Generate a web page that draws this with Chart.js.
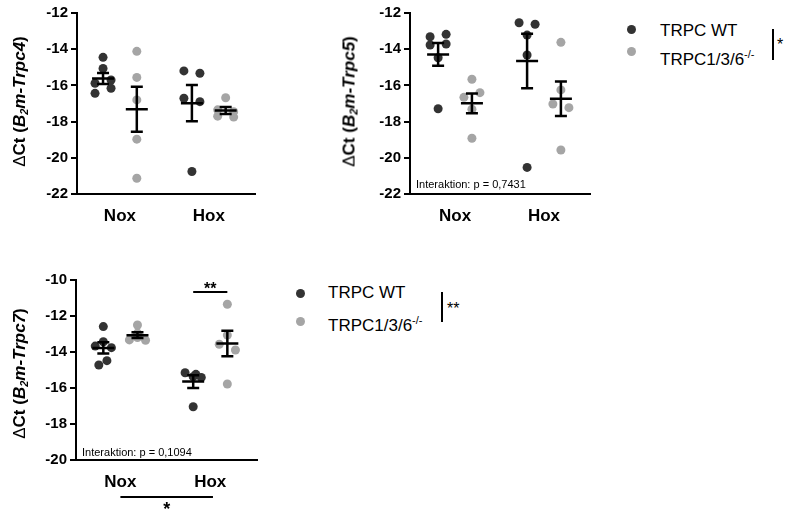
<!DOCTYPE html>
<html><head><meta charset="utf-8">
<script src="https://cdn.jsdelivr.net/npm/chart.js@4.4.0/dist/chart.umd.min.js"></script>
<style>
html,body{margin:0;padding:0;background:#fff;width:785px;height:511px;overflow:hidden;font-family:"Liberation Sans",Arial,sans-serif;color:#000;}
canvas{position:absolute;}
.ytitle{position:absolute;width:220px;height:17px;text-align:center;font-weight:bold;font-size:17px;line-height:17px;white-space:nowrap;transform:rotate(-90deg);transform-origin:50% 50%;}
.ytitle sub{font-size:11px;vertical-align:-3px;line-height:0;}
.ytitle .d{font-weight:normal;}
.inter{position:absolute;font-size:11px;line-height:11px;white-space:nowrap;}
.leg{position:absolute;font-size:17px;line-height:17px;white-space:nowrap;}
.leg sup{font-size:11px;position:relative;top:-7px;vertical-align:baseline;line-height:0;}
.dot{position:absolute;width:9px;height:9px;border-radius:50%;}
.vbar{position:absolute;width:2px;background:#000;}
.ast{position:absolute;font-size:16px;line-height:16px;white-space:nowrap;}
</style></head>
<body>
<canvas id="c1" width="265" height="235" style="left:0;top:0"></canvas>
<canvas id="c2" width="265" height="235" style="left:330px;top:0"></canvas>
<canvas id="c3" width="265" height="244" style="left:0;top:267px"></canvas>

<div class="ytitle" style="left:-91px;top:93px"><span class="d">Δ</span>Ct (<i>B<sub>2</sub>m-Trpc4</i>)</div>
<div class="ytitle" style="left:239px;top:93px"><span class="d">Δ</span>Ct (<i>B<sub>2</sub>m-Trpc5</i>)</div>
<div class="ytitle" style="left:-91px;top:365px"><span class="d">Δ</span>Ct (<i>B<sub>2</sub>m-Trpc7</i>)</div>

<div class="inter" style="left:416px;top:179px">Interaktion: p = 0,7431</div>
<div class="inter" style="left:82px;top:447px">Interaktion: p = 0,1094</div>

<div class="dot" style="left:627px;top:25px;background:#333"></div>
<div class="dot" style="left:627px;top:47px;background:#a5a5a5"></div>
<div class="leg" style="left:660px;top:22px">TRPC WT</div>
<div class="leg" style="left:660px;top:51px">TRPC1/3/6<sup>-/-</sup></div>
<div class="vbar" style="left:772px;top:29px;height:31px"></div>
<div class="ast" style="left:777px;top:37px">*</div>

<div class="dot" style="left:296px;top:289px;background:#333"></div>
<div class="dot" style="left:296px;top:317px;background:#a5a5a5"></div>
<div class="leg" style="left:328px;top:284px">TRPC WT</div>
<div class="leg" style="left:328px;top:317px">TRPC1/3/6<sup>-/-</sup></div>
<div class="vbar" style="left:441px;top:292px;height:30px"></div>
<div class="ast" style="left:447px;top:301px">**</div>

<script>
// ---------- data ----------
const categories = ['Nox', 'Hox'];
const genotypes = ['TRPC WT', 'TRPC1/3/6-/-'];

// Trpc4 (ΔCt vs B2m)
const trpc4WtNox = [-14.45, -15.06, -15.70, -15.88, -16.16, -16.44];
const trpc4KoNox = [-14.12, -15.56, -16.80, -18.97, -21.13];
const trpc4WtHox = [-15.20, -15.33, -16.71, -16.90, -20.76];
const trpc4KoHox = [-16.68, -17.35, -17.45, -17.70, -17.75];

// Trpc5
const trpc5WtNox = [-13.18, -13.31, -13.71, -13.77, -14.47, -17.29];
const trpc5KoNox = [-15.66, -16.40, -16.66, -17.32, -18.92];
const trpc5WtHox = [-12.54, -12.62, -13.22, -14.32, -20.53];
const trpc5KoHox = [-13.62, -16.25, -17.03, -17.23, -19.57];

// Trpc7
const trpc7WtNox = [-12.59, -13.43, -13.67, -13.76, -14.48, -14.72];
const trpc7KoNox = [-12.50, -12.95, -13.20, -13.33, -13.35];
const trpc7WtHox = [-15.15, -15.24, -15.37, -15.41, -17.04];
const trpc7KoHox = [-11.35, -13.06, -13.57, -13.89, -15.78];

// y tick labels
const yTicksTrpc4 = [-22, -20, -18, -16, -14, -12];
const yTicksTrpc5 = [-22, -20, -18, -16, -14, -12];
const yTicksTrpc7 = [-20, -18, -16, -14, -12, -10];

// horizontal scatter (jitter) of the dots, in category units (layout only)
const jit4WtNox = [0, 0, 0.09, -0.09, 0.09, -0.09];
const jit4KoNox = [0, 0, 0, 0, 0];
const jit4WtHox = [-0.09, 0.09, -0.09, 0.09, 0];
const jit4KoHox = [0, -0.09, 0.09, -0.09, 0.09];
const jit5WtNox = [0.09, -0.09, 0.09, -0.09, 0, 0];
const jit5KoNox = [0, 0.09, -0.09, 0, 0];
const jit5WtHox = [-0.09, 0.09, 0, 0, 0];
const jit5KoHox = [0, 0, -0.09, 0.09, 0];
const jit7WtNox = [0, 0, -0.09, 0.09, 0.04, -0.05];
const jit7KoNox = [0, 0, 0, -0.09, 0.09];
const jit7WtHox = [-0.09, 0.03, 0, 0.09, 0];
const jit7KoHox = [0, 0, -0.09, 0.09, 0];

// ---------- helpers ----------
const FONT = '"Liberation Sans", Arial, sans-serif';
const WT_COLOR = '#333333';
const KO_COLOR = '#a5a5a5';
const SUB = 0.19;

function mean(a){ return a.reduce((s,v)=>s+v,0)/a.length; }
function sem(a){ const m=mean(a); const sd=Math.sqrt(a.reduce((s,v)=>s+(v-m)*(v-m),0)/(a.length-1)); return sd/Math.sqrt(a.length); }

function ds(label, values, jitter, catIdx, shift, color){
  const center = catIdx + 1 + shift;
  return {
    label, values, center,
    data: values.map((v,i)=>({x:center + jitter[i], y:v})),
    backgroundColor: color, borderWidth: 0,
    pointRadius: 4.5, pointHoverRadius: 4.5, showLine:false
  };
}

const meanSemPlugin = {
  id: 'meanSem',
  afterDatasetsDraw(chart){
    const {ctx} = chart; const x = chart.scales.x, y = chart.scales.y;
    ctx.save();
    ctx.strokeStyle = '#000'; ctx.lineWidth = 2.5; ctx.lineCap = 'butt';
    chart.data.datasets.forEach(d=>{
      const m = mean(d.values), s = sem(d.values);
      const px = x.getPixelForValue(d.center);
      const pm = y.getPixelForValue(m), pt = y.getPixelForValue(m+s), pb = y.getPixelForValue(m-s);
      ctx.beginPath();
      ctx.moveTo(px-11, pm); ctx.lineTo(px+11, pm);
      ctx.moveTo(px, pt); ctx.lineTo(px, pb);
      ctx.moveTo(px-6, pt); ctx.lineTo(px+6, pt);
      ctx.moveTo(px-6, pb); ctx.lineTo(px+6, pb);
      ctx.stroke();
    });
    ctx.restore();
  }
};

const sigPlugin = {
  id: 'sig',
  afterDraw(chart, args, opts){
    const {ctx} = chart; const x = chart.scales.x, y = chart.scales.y;
    ctx.save();
    ctx.strokeStyle = '#000'; ctx.fillStyle = '#000'; ctx.lineWidth = 2;
    (opts.inside || []).forEach(b=>{
      const x1 = x.getPixelForValue(b.x1), x2 = x.getPixelForValue(b.x2), py = y.getPixelForValue(b.y);
      ctx.beginPath(); ctx.moveTo(x1, py); ctx.lineTo(x2, py); ctx.stroke();
      ctx.font = 'bold 16px ' + FONT; ctx.textAlign = 'center'; ctx.textBaseline = 'alphabetic';
      ctx.fillText(b.text, (x1+x2)/2, py + 2);
    });
    (opts.below || []).forEach(b=>{
      const x1 = x.getPixelForValue(b.x1), x2 = x.getPixelForValue(b.x2), py = chart.chartArea.bottom + b.gap;
      ctx.beginPath(); ctx.moveTo(x1, py); ctx.lineTo(x2, py); ctx.stroke();
      ctx.font = 'bold 18px ' + FONT; ctx.textAlign = 'center'; ctx.textBaseline = 'alphabetic';
      ctx.fillText(b.text, (x1+x2)/2, py + 18);
    });
    ctx.restore();
  }
};

function makeChart(id, c){
  return new Chart(document.getElementById(id), {
    type: 'scatter',
    data: {datasets: c.datasets},
    options: {
      responsive: false, animation: false, events: [],
      layout: {padding: {top: 13, right: c.padRight, left: 0, bottom: 0}},
      plugins: {legend: {display: false}, tooltip: {enabled: false}, sig: c.sig || {}},
      scales: {
        x: {
          type: 'linear', min: c.xMin, max: c.xMax,
          afterFit: s => { s.height = c.xHeight; },
          afterBuildTicks: s => { s.ticks = categories.map((_, i) => ({value: i + 1})); },
          ticks: {callback: v => categories[v - 1] ?? '', color: '#000', padding: 12,
                  font: {family: FONT, size: 17, weight: 'bold'}, maxRotation: 0, autoSkip: false},
          grid: {display: false, drawTicks: false},
          border: {display: true, color: '#000', width: 2}
        },
        y: {
          min: c.yTicks[0], max: c.yTicks[c.yTicks.length - 1],
          afterFit: s => { s.width = c.yWidth; },
          afterBuildTicks: s => { s.ticks = c.yTicks.map(v => ({value: v})); },
          ticks: {color: '#000', padding: 3, font: {family: FONT, size: 15, weight: 'bold'}},
          grid: {drawOnChartArea: false, drawTicks: true, tickLength: 6, color: '#000', lineWidth: 2},
          border: {display: true, color: '#000', width: 2}
        }
      }
    },
    plugins: [meanSemPlugin, sigPlugin]
  });
}

makeChart('c1', {
  yTicks: yTicksTrpc4, yWidth: 77, xHeight: 41, padRight: 10, xMin: 0.517, xMax: 2.52,
  datasets: [
    ds(genotypes[0], trpc4WtNox, jit4WtNox, 0, -SUB, WT_COLOR),
    ds(genotypes[1], trpc4KoNox, jit4KoNox, 0, SUB, KO_COLOR),
    ds(genotypes[0], trpc4WtHox, jit4WtHox, 1, -SUB, WT_COLOR),
    ds(genotypes[1], trpc4KoHox, jit4KoHox, 1, SUB, KO_COLOR)
  ]
});

makeChart('c2', {
  yTicks: yTicksTrpc5, yWidth: 80, xHeight: 41, padRight: 5, xMin: 0.494, xMax: 2.517,
  datasets: [
    ds(genotypes[0], trpc5WtNox, jit5WtNox, 0, -SUB, WT_COLOR),
    ds(genotypes[1], trpc5KoNox, jit5KoNox, 0, SUB, KO_COLOR),
    ds(genotypes[0], trpc5WtHox, jit5WtHox, 1, -SUB, WT_COLOR),
    ds(genotypes[1], trpc5KoHox, jit5KoHox, 1, SUB, KO_COLOR)
  ]
});

makeChart('c3', {
  yTicks: yTicksTrpc7, yWidth: 76, xHeight: 51, padRight: 8, xMin: 0.506, xMax: 2.52,
  datasets: [
    ds(genotypes[0], trpc7WtNox, jit7WtNox, 0, -SUB, WT_COLOR),
    ds(genotypes[1], trpc7KoNox, jit7KoNox, 0, SUB, KO_COLOR),
    ds(genotypes[0], trpc7WtHox, jit7WtHox, 1, -SUB, WT_COLOR),
    ds(genotypes[1], trpc7KoHox, jit7KoHox, 1, SUB, KO_COLOR)
  ],
  sig: {
    inside: [{x1: 2 - SUB, x2: 2 + SUB, y: -10.67, text: '**'}],
    below: [{x1: 1, x2: 2.03, gap: 37, text: '*'}]
  }
});
</script>
</body></html>
